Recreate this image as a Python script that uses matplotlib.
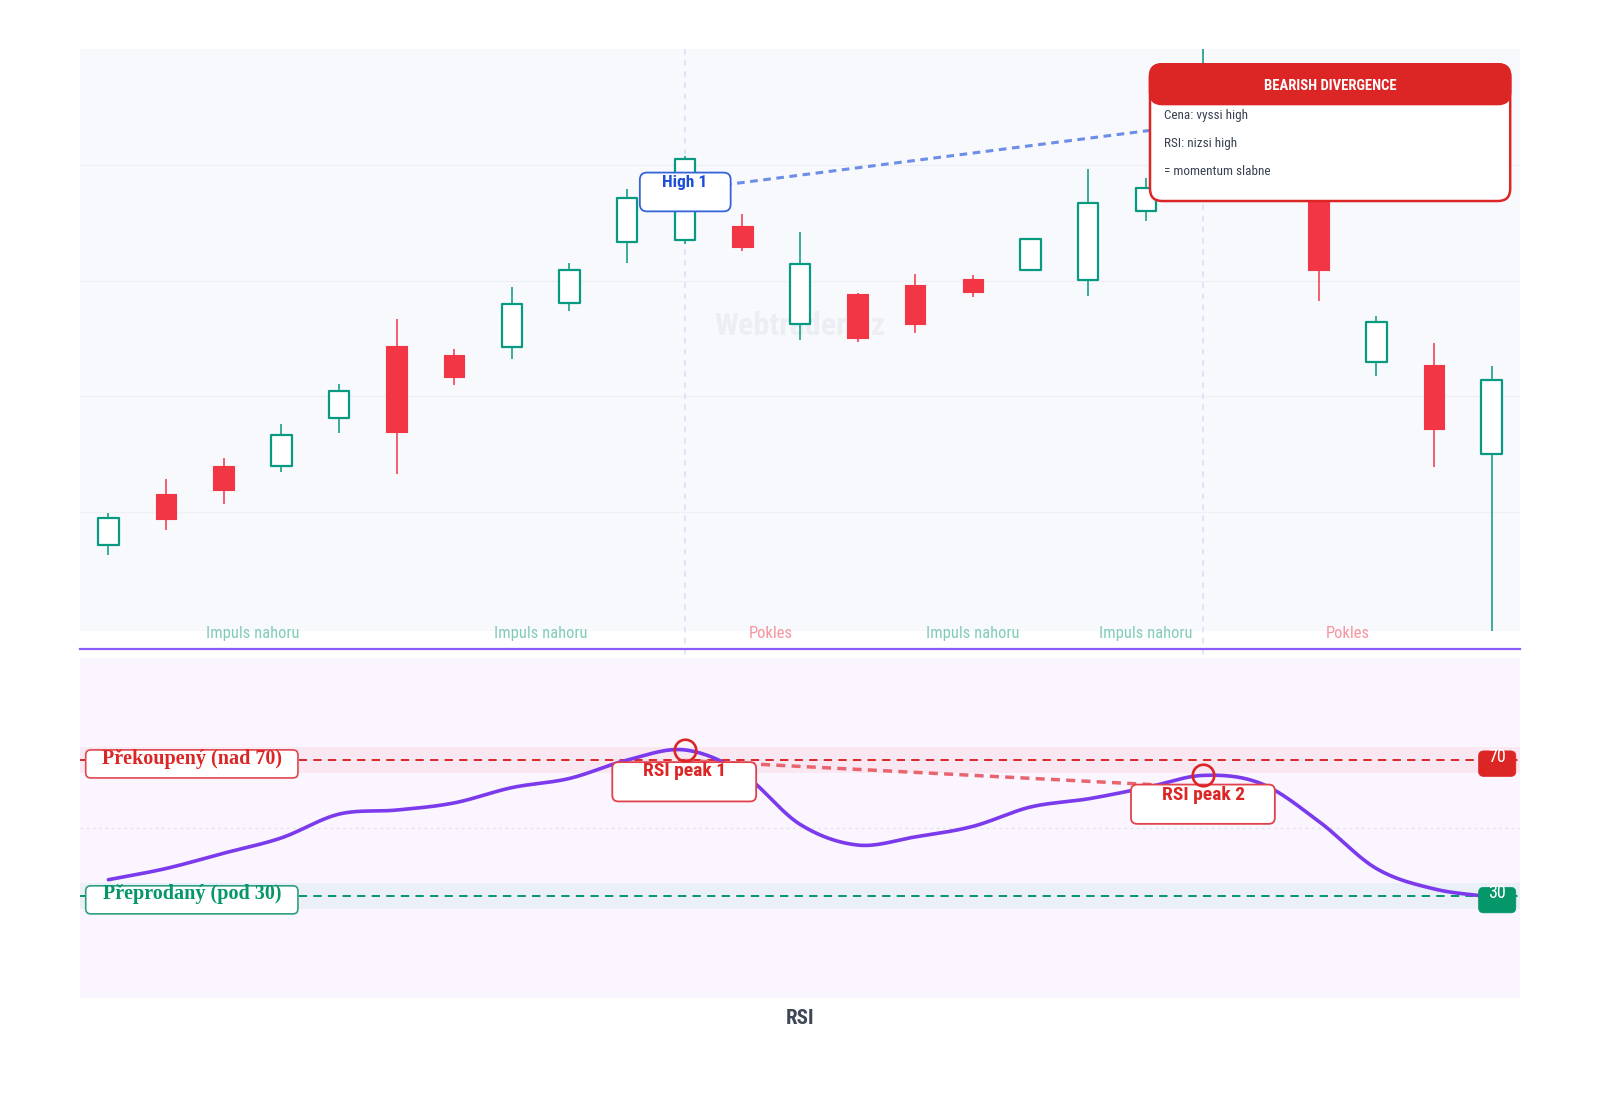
import os
import numpy as np
import matplotlib
matplotlib.use("Agg")
import matplotlib.pyplot as plt
import matplotlib.transforms as mtrans
from matplotlib.patches import FancyBboxPatch, Rectangle
from matplotlib.lines import Line2D
from matplotlib import font_manager
from matplotlib.font_manager import FontProperties

plt.rcParams["lines.scale_dashes"] = False

# ---------------- data ----------------
idx = list(range(25))
opens  = [107.08, 111.50, 113.98, 113.98, 118.14, 124.34, 123.54, 124.25, 128.05, 133.36,
          133.54, 134.73, 126.28, 128.85, 129.65, 130.18, 130.92, 130.09, 136.02, 139.20,
          146.50, 142.00, 123.01, 122.74, 114.96]
closes = [109.47, 109.38, 111.86, 116.64, 120.44, 116.90, 121.68, 127.96, 130.97, 137.17,
          140.53, 132.95, 131.42, 125.04, 126.28, 129.07, 133.66, 136.73, 138.05, 146.00,
          141.00, 130.97, 126.46, 117.17, 121.42]
highs  = [109.91, 112.83, 114.69, 117.61, 121.06, 126.73, 124.07, 129.47, 131.59, 137.92,
          140.84, 135.78, 134.25, 128.94, 130.58, 130.49, 133.72, 139.68, 138.94, 150.09,
          148.00, 143.50, 126.99, 124.65, 122.65]
lows   = [106.28, 108.41, 110.71, 113.45, 116.81, 113.27, 120.97, 123.27, 127.43, 131.59,
          133.23, 132.59, 124.87, 124.69, 125.49, 128.58, 130.88, 128.67, 135.22, 138.60,
          139.50, 128.23, 121.77, 113.89, 99.70]
rsi    = [34.8, 38.1, 42.6, 47.1, 54.1, 55.3, 57.4, 61.9, 64.6, 70.0,
          73.0, 66.1, 51.1, 45.0, 47.4, 50.5, 56.2, 58.6, 61.9, 65.5,
          63.1, 52.0, 38.1, 32.1, 29.7]

price_grid = [110, 120, 130, 140]
phase_text = ["Impuls nahoru", "Impuls nahoru", "Pokles", "Impuls nahoru", "Impuls nahoru", "Pokles"]
phase_pos = [2.5, 7.5, 11.5, 15.0, 18.0, 21.5]
phase_up = [True, True, False, True, True, False]

peak_idx = [10, 19]
price_div_idx = [10, 19]
price_div_val = [137.88, 143.63]
rsi_div_idx = [10, 19]
rsi_div_val = [69.9, 62.0]
overbought, oversold = 70, 30

tooltip_title = "BEARISH DIVERGENCE"
tooltip_lines = ["Cena: vyssi high", "RSI: nizsi high", "= momentum slabne"]

# ---------------- fonts ----------------
all_files = [f.fname for f in font_manager.fontManager.ttflist]


def pick(patterns, fallback_weight):
    low = [(os.path.basename(p).lower().replace(" ", "").replace("_", "").replace("-", ""), p)
           for p in all_files]
    for pat in patterns:
        pat = pat.lower().replace("-", "").replace("_", "")
        for b, p in low:
            if b.startswith(pat) and "italic" not in b:
                return FontProperties(fname=p)
    return FontProperties(family="DejaVu Sans", weight=fallback_weight, stretch="condensed")


COND = pick(["RobotoCondensed-Regular", "RobotoCondensedRegular", "OpenSansCondensed-Regular",
             "OpenSans-CondensedRegular", "NotoSans-ExtraCondensed.", "NotoSansExtraCondensed.",
             "NotoSans-Condensed.", "LiberationSansNarrow-Regular", "DejaVuSansCondensed."], "normal")
COND_B = pick(["RobotoCondensed-Bold.", "OpenSansCondensed-Bold.", "OpenSans-CondensedBold.",
               "NotoSans-ExtraCondensedBold.", "NotoSans-CondensedBold.",
               "LiberationSansNarrow-Bold.", "DejaVuSansCondensed-Bold."], "bold")
SERIF_B = FontProperties(family=["Liberation Serif", "DejaVu Serif"], weight="bold")

# ---------------- layout ----------------
W0, H0 = 1568.0, 1078.0
S = 1600.0 / W0
fig = plt.figure(figsize=(16, 11), dpi=100)
fig.patch.set_facecolor("white")

def fx(x): return x / W0
def fy(y): return 1 - y / H0

ax = fig.add_axes([fx(78), fy(618), fx(1490) - fx(78), fy(48) - fy(618)])
axr = fig.add_axes([fx(78), fy(978), fx(1490) - fx(78), fy(645) - fy(978)])

for a in (ax, axr):
    for s in a.spines.values():
        s.set_visible(False)
    a.set_xticks([]); a.set_yticks([])
    a.set_xlim(-0.5, len(idx) - 0.5)
ax.set_facecolor("#f8f9fc")
axr.set_facecolor("#faf5fe")
ax.set_ylim(min(lows), max(highs))
axr.set_ylim(0, 100)

GREEN = "#089981"
RED = "#f23645"

for g in price_grid:
    ax.axhline(g, color="#eef0f5", lw=0.9, zorder=0.3)

# watermark
ax.text(0.5, 0.523, "Webtrader.cz", transform=ax.transAxes, ha="center", va="center",
        fontproperties=COND_B, fontsize=23, color="#eceef3", zorder=0.4)

# vertical dashed guide lines
bt = mtrans.blended_transform_factory(ax.transData, ax.transAxes)
for p in peak_idx:
    ax.plot([p, p], [1, -(645 - 618) / 570], transform=bt, clip_on=False,
            color="#dcdff6", lw=1.2, dashes=(4, 4), zorder=0.8)

# candles
bw = 0.355
for i, o, c, h, l in zip(idx, opens, closes, highs, lows):
    up = c >= o
    col = GREEN if up else RED
    ax.vlines(i, l, h, color=col, lw=1.3, alpha=0.85, zorder=2)
    if up:
        ax.add_patch(Rectangle((i - bw / 2, o), bw, c - o, facecolor="white",
                               edgecolor=col, lw=1.6, zorder=3, joinstyle="round"))
    else:
        ax.add_patch(Rectangle((i - bw / 2, c), bw, o - c, facecolor=col,
                               edgecolor=col, lw=0.8, zorder=3, joinstyle="round"))

# price divergence line
ax.plot(price_div_idx, price_div_val, color="#6d8ee8", lw=2.2, dashes=(5.5, 4), zorder=4)

# phase labels
for t, p, up in zip(phase_text, phase_pos, phase_up):
    ax.text(p, -(621 - 618) / 570, t, transform=bt, ha="center", va="center",
            fontproperties=COND, fontsize=12, color="#82ccb9" if up else "#f5959d",
            zorder=6, clip_on=False)

# ---- RSI panel ----
axr.axhspan(66.2, 73.8, color="#f9e7f2", lw=0, zorder=0.3)
axr.axhspan(26.2, 33.8, color="#eaeff8", lw=0, zorder=0.3)
axr.axhline(50, color="#e6e2ef", lw=1.0, dashes=(2, 2.5), zorder=0.5)
axr.axhline(overbought, color="#dc2626", lw=1.4, dashes=(6, 4.5), zorder=1)
axr.axhline(oversold, color="#059669", lw=1.4, dashes=(6, 4.5), zorder=1)


def catmull(xs, ys, n=30):
    P = np.column_stack([np.asarray(xs, float), np.asarray(ys, float)])
    P = np.vstack([2 * P[0] - P[1], P, 2 * P[-1] - P[-2]])
    t = np.linspace(0, 1, n, endpoint=False)[:, None]
    out = []
    for k in range(1, len(P) - 2):
        p0, p1, p2, p3 = P[k - 1], P[k], P[k + 1], P[k + 2]
        out.append(0.5 * ((2 * p1) + (-p0 + p2) * t + (2 * p0 - 5 * p1 + 4 * p2 - p3) * t ** 2
                          + (-p0 + 3 * p1 - 3 * p2 + p3) * t ** 3))
    out.append(P[-2][None, :])
    return np.vstack(out)

curve = catmull(idx, rsi)
axr.plot(curve[:, 0], curve[:, 1], color="#7c3aed", lw=2.6, solid_capstyle="round", zorder=3)
axr.plot(rsi_div_idx, rsi_div_val, color="#e8646f", lw=2.5, dashes=(6.5, 4.5), zorder=2.5)

# separator
fig.add_artist(Line2D([fx(78), fx(1490)], [fy(636.5)] * 2, color="#8b5cf6", lw=1.6))

# ---------------- label helpers ----------------
ID = mtrans.IdentityTransform()
fig.canvas.draw()


def anchor(a, x, y, tr="data"):
    t = a.transData if tr == "data" else (a.transAxes if tr == "axes" else
                                          mtrans.blended_transform_factory(a.transAxes, a.transData))
    return t.transform((x, y))


def rbox(a, anc, dx, dy, w, h, fc, ec, lw, r, z):
    X, Y = anc
    p = FancyBboxPatch((X + dx * S, Y - (dy + h) * S), w * S, h * S,
                       boxstyle=f"round,pad=0,rounding_size={r * S}", fc=fc, ec=ec, lw=lw,
                       transform=ID, zorder=z, clip_on=False)
    a.add_patch(p)


def rtext(a, anc, dx, dy, s, z, **kw):
    X, Y = anc
    a.text(X + dx * S, Y - dy * S, s, transform=ID, zorder=z, clip_on=False, **kw)


# High 1 label
anc = anchor(ax, peak_idx[0], highs[peak_idx[0]])
rbox(ax, anc, -44, 16.5, 89, 38, "white", "#3563d9", 1.3, 7, 7)
rtext(ax, anc, 0, 26.5, "High 1", 8, ha="center", va="center", fontproperties=COND_B,
      fontsize=12.5, color="#1d4ed8")

# tooltip
anc = anchor(ax, (1127 - 78) / 1412, 1 - (63 - 48) / 570, "axes")
rbox(ax, anc, 0, 0, 353, 134, "white", "#dc2626", 1.8, 12, 9)
rbox(ax, anc, 0, 0, 353, 39, "#dc2626", "#dc2626", 1.8, 12, 9.5)
rtext(ax, anc, 176.5, 21, tooltip_title, 10, ha="center", va="center",
      fontproperties=COND_B, fontsize=10.5, color="white")
for k, line in enumerate(tooltip_lines):
    rtext(ax, anc, 14, 50 + 27.5 * k, line, 10, ha="left", va="center",
          fontproperties=COND, fontsize=9.5, color="#374151")

# RSI peak labels
for j, (p, dy_box, dy_txt) in enumerate(zip(peak_idx, [12, 9], [21, 19])):
    anc = anchor(axr, p, rsi[p])
    rbox(axr, anc, -71, dy_box, 141, 38.5, "white", "#e0414b", 1.3, 6, 5)
    rtext(axr, anc, 0, dy_txt, f"RSI peak {j + 1}", 6, ha="center", va="center",
          fontproperties=COND_B, fontsize=14, color="#dc2626")
    axr.plot([p], [rsi[p]], "o", ms=15.5, mfc="none", mec="#dc2626", mew=1.9, zorder=7)

# zone labels
anc = anchor(axr, 0, overbought, "blend")
rbox(axr, anc, 6, -10, 208, 27.5, "white", "#e0474f", 1.2, 5, 5)
rtext(axr, anc, 110, -1.5, "Překoupený (nad 70)", 6, ha="center", va="center",
      fontproperties=SERIF_B, fontsize=14.5, color="#dc2626")
anc = anchor(axr, 0, oversold, "blend")
rbox(axr, anc, 6, -10, 208, 27.5, "white", "#2ea07e", 1.2, 5, 5)
rtext(axr, anc, 110, -2, "Přeprodaný (pod 30)", 6, ha="center", va="center",
      fontproperties=SERIF_B, fontsize=14.5, color="#059669")

# badges
anc = anchor(axr, 1, overbought, "blend")
rbox(axr, anc, -41, -9, 36.5, 25, "#dc2626", "#dc2626", 0.5, 5, 5)
rtext(axr, anc, -23, -3, "70", 6, ha="center", va="center", fontproperties=COND,
      fontsize=13, color="white")
anc = anchor(axr, 1, oversold, "blend")
rbox(axr, anc, -41, -8.5, 36.5, 25, "#059669", "#059669", 0.5, 5, 5)
rtext(axr, anc, -23, -2.5, "30", 6, ha="center", va="center", fontproperties=COND,
      fontsize=13, color="white")

fig.text(fx(784), fy(998), "RSI", ha="center", va="center", fontproperties=COND_B,
         fontsize=15, color="#3f4756")

fig.savefig("out.png", dpi=100, facecolor="white")
